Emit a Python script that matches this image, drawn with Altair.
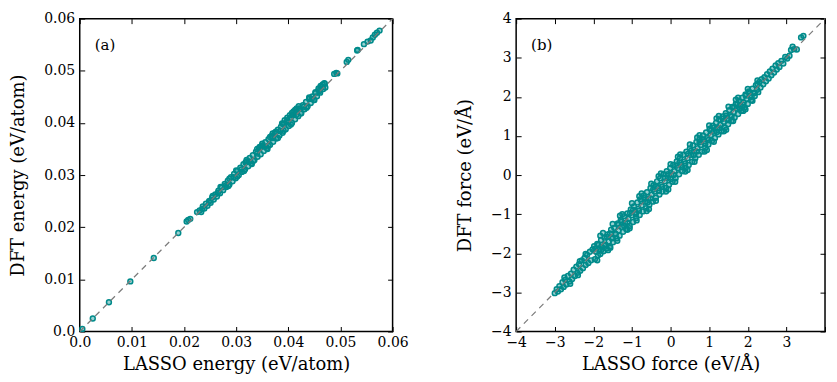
import altair as alt
import pandas as pd

# ---------------- data ----------------
energy_pairs = [
    (0.0005, 0.0005), (0.0025, 0.0025), (0.0056, 0.0056), (0.0097, 0.0096), (0.0142, 0.0141),
    (0.0189, 0.0189), (0.0205, 0.0211), (0.0208, 0.0214), (0.0212, 0.0216), (0.0225, 0.0229),
    (0.0230, 0.0232), (0.0233, 0.0229), (0.0236, 0.0240), (0.0239, 0.0236), (0.0242, 0.0245),
    (0.0245, 0.0241), (0.0248, 0.0250), (0.0251, 0.0247), (0.0254, 0.0257), (0.0257, 0.0253),
    (0.0260, 0.0263), (0.0263, 0.0259), (0.0266, 0.0270), (0.0269, 0.0265), (0.0272, 0.0276),
    (0.0275, 0.0271), (0.0278, 0.0283), (0.0281, 0.0277), (0.0284, 0.0289), (0.0287, 0.0282),
    (0.0290, 0.0296), (0.0293, 0.0288), (0.0296, 0.0302), (0.0299, 0.0294), (0.0302, 0.0308),
    (0.0305, 0.0300), (0.0308, 0.0314), (0.0311, 0.0306), (0.0314, 0.0321), (0.0317, 0.0311),
    (0.0320, 0.0326), (0.0323, 0.0317), (0.0326, 0.0333), (0.0329, 0.0323), (0.0332, 0.0338),
    (0.0335, 0.0329), (0.0338, 0.0345), (0.0341, 0.0335), (0.0344, 0.0351), (0.0347, 0.0340),
    (0.0350, 0.0357), (0.0353, 0.0346), (0.0356, 0.0363), (0.0359, 0.0352), (0.0362, 0.0369),
    (0.0365, 0.0358), (0.0368, 0.0375), (0.0371, 0.0364), (0.0374, 0.0381), (0.0377, 0.0370),
    (0.0380, 0.0387), (0.0383, 0.0376), (0.0386, 0.0393), (0.0389, 0.0381), (0.0392, 0.0399),
    (0.0395, 0.0388), (0.0398, 0.0405), (0.0401, 0.0394), (0.0404, 0.0410), (0.0407, 0.0400),
    (0.0410, 0.0416), (0.0413, 0.0407), (0.0416, 0.0422), (0.0419, 0.0413), (0.0422, 0.0428),
    (0.0425, 0.0419), (0.0428, 0.0434), (0.0431, 0.0426), (0.0434, 0.0440), (0.0437, 0.0432),
    (0.0440, 0.0446), (0.0443, 0.0438), (0.0446, 0.0451), (0.0449, 0.0444), (0.0452, 0.0457),
    (0.0455, 0.0451), (0.0458, 0.0463), (0.0461, 0.0458), (0.0464, 0.0469), (0.0467, 0.0465),
    (0.0470, 0.0475),
    (0.0235, 0.0235), (0.0250, 0.0251), (0.0265, 0.0266), (0.0280, 0.0280), (0.0295, 0.0296),
    (0.0310, 0.0311), (0.0325, 0.0326), (0.0340, 0.0341), (0.0355, 0.0355), (0.0370, 0.0371),
    (0.0385, 0.0385), (0.0400, 0.0401), (0.0415, 0.0415), (0.0430, 0.0431), (0.0445, 0.0446),
    (0.0460, 0.0461),
    (0.0300, 0.0309), (0.0320, 0.0329), (0.0340, 0.0350), (0.0360, 0.0350), (0.0380, 0.0371),
    (0.0330, 0.0321), (0.0350, 0.0360), (0.0370, 0.0380), (0.0440, 0.0449), (0.0450, 0.0444),
    (0.0270, 0.0277), (0.0285, 0.0279), (0.0315, 0.0308), (0.0345, 0.0354), (0.0365, 0.0373),
    (0.0390, 0.0398), (0.0405, 0.0397), (0.0420, 0.0427), (0.0435, 0.0429), (0.0255, 0.0260),
    (0.0287, 0.0293), (0.0302, 0.0297), (0.0318, 0.0324), (0.0333, 0.0327), (0.0348, 0.0355),
    (0.0362, 0.0356), (0.0376, 0.0383), (0.0391, 0.0385), (0.0408, 0.0414), (0.0424, 0.0418),
    (0.0388, 0.0399), (0.0393, 0.0405), (0.0398, 0.0410), (0.0403, 0.0415), (0.0407, 0.0419),
    (0.0410, 0.0422), (0.0413, 0.0425), (0.0416, 0.0428), (0.0420, 0.0432),
    (0.0452, 0.0459), (0.0458, 0.0466), (0.0462, 0.0471), (0.0466, 0.0474), (0.0469, 0.0476),
    (0.0471, 0.0468),
    (0.0488, 0.0494), (0.0492, 0.0496), (0.0494, 0.0495), (0.0512, 0.0517), (0.0515, 0.0521),
    (0.0532, 0.0539), (0.0533, 0.0540), (0.0545, 0.0551), (0.0552, 0.0556), (0.0558, 0.0558),
    (0.0562, 0.0564), (0.0566, 0.0569), (0.0570, 0.0573), (0.0575, 0.0577),
]

force_pairs = [
    (-3.00, -3.02), (-2.95, -2.92), (-2.92, -2.98), (-2.88, -2.84), (-2.84, -2.92),
    (-2.80, -2.74), (-2.77, -2.86), (-2.73, -2.68), (-2.70, -2.80), (-2.66, -2.58),
    (-2.62, -2.72), (-2.58, -2.52), (-2.55, -2.66), (-2.51, -2.42), (-2.48, -2.58),
    (-2.44, -2.34), (-2.41, -2.50), (-2.37, -2.28), (-2.34, -2.45), (-2.30, -2.18),
    (-2.27, -2.38), (-2.23, -2.12), (-2.20, -2.30), (-2.16, -2.04), (-2.13, -2.25),
    (-2.09, -1.96), (-2.06, -2.18), (-2.02, -1.90),
    (-2.60, -2.78), (-2.40, -2.56), (-2.20, -2.02), (-2.35, -2.20), (-2.75, -2.62),
    (-1.98, -1.82), (-1.96, -2.15), (-1.93, -1.96), (-1.90, -1.76), (-1.88, -2.05),
    (-1.85, -1.90), (-1.82, -2.02), (-1.80, -1.66), (-1.77, -1.85), (-1.74, -1.95),
    (-1.71, -1.60), (-1.69, -1.78), (-1.66, -1.88), (-1.63, -1.52), (-1.60, -1.70),
    (-1.57, -1.83), (-1.54, -1.40), (-1.52, -1.62), (-1.49, -1.72), (-1.46, -1.35),
    (-1.43, -1.50), (-1.40, -1.62), (-1.37, -1.24), (-1.35, -1.42), (-1.32, -1.55),
    (-1.29, -1.15), (-1.26, -1.33), (-1.23, -1.45), (-1.20, -1.05), (-1.18, -1.22),
    (-1.15, -1.38), (-1.12, -0.98), (-1.09, -1.12), (-1.06, -1.30), (-1.03, -0.88),
    (-1.00, -1.03), (-0.97, -1.20), (-0.95, -0.80), (-0.92, -0.95), (-0.89, -1.10),
    (-0.86, -0.70), (-0.83, -0.86), (-0.80, -1.02), (-0.78, -0.62), (-0.75, -0.78),
    (-0.72, -0.93), (-0.69, -0.52), (-0.66, -0.68), (-0.63, -0.85), (-0.61, -0.44),
    (-0.58, -0.60), (-0.55, -0.76), (-0.52, -0.33), (-0.49, -0.50), (-0.46, -0.68),
    (-0.44, -0.26), (-0.41, -0.42), (-0.38, -0.58), (-0.35, -0.16), (-0.32, -0.33),
    (-0.29, -0.50), (-0.27, -0.08), (-0.24, -0.25), (-0.21, -0.42), (-0.18, 0.02),
    (-0.15, -0.16), (-0.12, -0.33), (-0.10, 0.10), (-0.07, -0.06), (-0.04, -0.25),
    (-0.01, 0.18), (0.02, 0.02), (0.05, -0.17), (0.07, 0.26), (0.10, 0.10),
    (0.13, -0.08), (0.16, 0.35), (0.19, 0.18), (0.22, 0.02), (0.24, 0.43),
    (0.27, 0.26), (0.30, 0.10), (0.33, 0.52), (0.36, 0.35), (0.39, 0.18),
    (0.41, 0.60), (0.44, 0.43), (0.47, 0.26), (0.50, 0.68), (0.53, 0.52),
    (0.56, 0.34), (0.58, 0.76), (0.61, 0.60), (0.64, 0.43), (0.67, 0.85),
    (0.70, 0.69), (0.73, 0.52), (0.75, 0.92), (0.78, 0.77), (0.81, 0.60),
    (0.84, 1.01), (0.87, 0.86), (0.90, 0.70), (0.92, 1.09), (0.95, 0.94),
    (0.98, 0.78), (1.01, 1.18), (1.04, 1.02), (1.07, 0.87), (1.09, 1.26),
    (1.12, 1.11), (1.15, 0.95), (1.18, 1.34), (1.21, 1.19), (1.24, 1.04),
    (1.26, 1.42), (1.29, 1.28), (1.32, 1.12), (1.35, 1.50), (1.38, 1.36),
    (1.41, 1.21), (1.43, 1.58), (1.46, 1.44), (1.49, 1.30), (1.52, 1.66),
    (1.55, 1.53), (1.58, 1.38), (1.60, 1.74), (1.63, 1.61), (1.66, 1.47),
    (1.69, 1.82), (1.72, 1.70), (1.75, 1.56), (1.77, 1.90), (1.80, 1.78),
    (1.83, 1.64), (1.86, 1.98), (1.89, 1.86), (1.92, 1.73), (1.94, 2.06),
    (1.97, 1.95), (2.00, 1.82), (2.03, 2.14), (2.06, 2.03), (2.09, 1.92),
    (2.12, 2.21), (2.15, 2.10), (2.18, 2.02), (2.21, 2.30), (2.24, 2.18),
    (2.27, 2.12), (2.30, 2.38),
    (-1.90, -2.18), (-1.75, -1.48), (-1.62, -1.92), (-1.50, -1.25), (-1.38, -1.68),
    (-1.25, -1.00), (-1.12, -1.40), (-1.00, -0.72), (-0.88, -1.16), (-0.75, -0.47),
    (-0.62, -0.92), (-0.50, -0.22), (-0.38, -0.66), (-0.25, 0.04), (-0.12, -0.42),
    (0.00, 0.28), (0.12, -0.17), (0.25, 0.53), (0.38, 0.09), (0.50, 0.78),
    (0.62, 0.34), (0.75, 1.02), (0.88, 0.60), (1.00, 1.27), (1.12, 0.85),
    (1.25, 1.51), (1.38, 1.12), (1.50, 1.75), (1.62, 1.38), (1.75, 1.98),
    (1.88, 1.64), (2.00, 2.20), (2.12, 1.90), (2.25, 2.42),
    (-1.82, -1.55), (-1.56, -1.86), (-1.31, -1.04), (-1.06, -1.36), (-0.81, -0.54),
    (-0.56, -0.87), (-0.31, -0.03), (-0.06, -0.37), (0.19, 0.47), (0.44, 0.13),
    (0.69, 0.96), (0.94, 0.64), (1.19, 1.45), (1.44, 1.16), (1.69, 1.93), (1.94, 1.68),
    (-1.95, -1.88), (-1.80, -1.92), (-1.65, -1.58), (-1.50, -1.60), (-1.35, -1.27),
    (-1.20, -1.30), (-1.05, -0.97), (-0.90, -1.00), (-0.75, -0.67), (-0.60, -0.70),
    (-0.45, -0.37), (-0.30, -0.40), (-0.15, -0.07), (0.00, -0.10), (0.15, 0.24),
    (0.30, 0.20), (0.45, 0.54), (0.60, 0.51), (0.75, 0.84), (0.90, 0.80),
    (1.05, 1.14), (1.20, 1.10), (1.35, 1.44), (1.50, 1.40), (1.65, 1.74),
    (1.80, 1.70), (1.95, 2.03), (2.10, 2.00), (2.25, 2.33),
    (-1.87, -1.79), (-1.72, -1.80), (-1.57, -1.49), (-1.42, -1.51), (-1.27, -1.19),
    (-1.12, -1.21), (-0.97, -0.89), (-0.82, -0.91), (-0.67, -0.59), (-0.52, -0.60),
    (-0.37, -0.29), (-0.22, -0.30), (-0.07, 0.02), (0.08, 0.00), (0.23, 0.32),
    (0.38, 0.30), (0.53, 0.62), (0.68, 0.60), (0.83, 0.92), (0.98, 0.90),
    (1.13, 1.22), (1.28, 1.20), (1.43, 1.52), (1.58, 1.50), (1.73, 1.82),
    (1.88, 1.80), (2.03, 2.11), (2.18, 2.10),
    (2.33, 2.24), (2.36, 2.45), (2.40, 2.32), (2.43, 2.50), (2.47, 2.40),
    (2.50, 2.58), (2.54, 2.47), (2.57, 2.65), (2.61, 2.55), (2.64, 2.72),
    (2.68, 2.62), (2.72, 2.80), (2.75, 2.70), (2.79, 2.86), (2.82, 2.76),
    (2.87, 2.92), (2.92, 2.85), (2.97, 3.02), (3.02, 2.98), (3.08, 3.05),
    (3.12, 3.20), (3.16, 3.28), (3.20, 3.22), (3.27, 3.21), (3.38, 3.52),
    (3.44, 3.56),
]

energy_diag = [0.0, 0.06]
force_diag = [-4.0, 4.0]
energy_ticks = [0.0, 0.01, 0.02, 0.03, 0.04, 0.05, 0.06]
force_ticks = [-4, -3, -2, -1, 0, 1, 2, 3, 4]

FONT = "DejaVu Serif"
TEAL = "#008b8b"


def panel(pairs, diag, ticks, xlabel_expr, ylabel_expr, xtitle, ytitle, tag, w, h):
    df = pd.DataFrame(pairs, columns=["lasso", "dft"])
    ddf = pd.DataFrame({"v": diag})
    dom = [diag[0], diag[1]]
    xs = alt.Scale(domain=dom, nice=False, zero=False)
    ys = alt.Scale(domain=dom, nice=False, zero=False)

    main_x = alt.Axis(values=ticks, labelExpr=xlabel_expr, title=xtitle, ticks=False,
                      domain=False, grid=False, labelPadding=4, titlePadding=6,
                      labelFlush=False, labelOverlap=False)
    main_y = alt.Axis(values=ticks, labelExpr=ylabel_expr, title=ytitle, ticks=False,
                      domain=False, grid=False, labelPadding=5, titlePadding=16,
                      labelFlush=False, labelOverlap=False)
    tick_kw = dict(values=ticks, labels=False, domain=False, ticks=True, tickSize=5,
                   tickColor="black", tickWidth=1, grid=False, title=None)
    in_bottom = alt.Axis(orient="top", offset=-h, **tick_kw)
    in_left = alt.Axis(orient="right", offset=-w, **tick_kw)
    in_top = alt.Axis(orient="bottom", offset=-h, **tick_kw)
    in_right = alt.Axis(orient="left", offset=-w, **tick_kw)

    pts = alt.Chart(df).mark_point(shape="circle", filled=False, size=24, strokeWidth=1.5,
                                   color=TEAL, fill=TEAL, fillOpacity=0.4,
                                   opacity=1).encode(
        x=alt.X("lasso:Q", scale=xs, axis=main_x),
        y=alt.Y("dft:Q", scale=ys, axis=main_y),
    )
    line = alt.Chart(ddf).mark_line(strokeDash=[6, 5], color="#7a7a7a", strokeWidth=1.2).encode(
        x=alt.X("v:Q", scale=xs, axis=in_bottom),
        y=alt.Y("v:Q", scale=ys, axis=in_left),
    )
    line2 = alt.Chart(ddf).mark_line(strokeOpacity=0).encode(
        x=alt.X("v:Q", scale=xs, axis=in_top),
        y=alt.Y("v:Q", scale=ys, axis=in_right),
    )
    txt = alt.Chart(pd.DataFrame({"t": [tag]})).mark_text(
        align="left", baseline="middle", font=FONT, fontSize=15, color="black").encode(
        text="t:N", x=alt.value(15), y=alt.value(26))
    return alt.layer(pts, line, line2, txt).resolve_axis(
        x="independent", y="independent").properties(width=w, height=h)


efmt = "datum.value == 0 ? '0.0' : format(datum.value, '.2f')"
pa = panel(energy_pairs, energy_diag, energy_ticks, efmt, efmt,
           "LASSO energy (eV/atom)", "DFT energy (eV/atom)", "(a)", 314, 314)
pb = panel(force_pairs, force_diag, force_ticks,
           "datum.value == 4 ? '' : format(datum.value, 'd')",
           "format(datum.value, 'd')",
           "LASSO force (eV/Å)", "DFT force (eV/Å)", "(b)", 310, 314)

chart = alt.hconcat(pa, pb, spacing=124, bounds="flush").properties(
    padding={"left": 1, "top": 2, "right": 0, "bottom": 0}
).configure_axis(
    labelFont=FONT, titleFont=FONT, labelFontSize=14, titleFontSize=18,
    labelColor="black", titleColor="black", titleFontWeight="normal"
).configure_view(stroke="black", strokeWidth=1.5)

chart.save("out.html", embed_options={"renderer": "svg", "actions": False})
